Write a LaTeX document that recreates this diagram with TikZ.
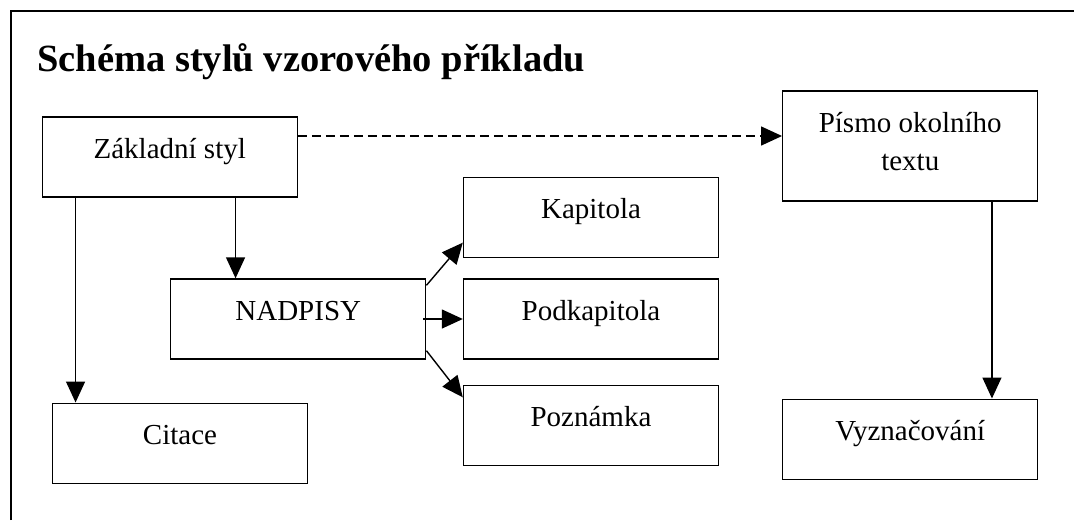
\documentclass[tikz,border=0pt]{standalone}
\usepackage{fontspec}
\setmainfont{Liberation Serif}
\usetikzlibrary{arrows.meta}
\begin{document}
\begin{tikzpicture}[x=1pt,y=-1pt,
  box/.style={draw=black, line width=1.4pt, rectangle, inner sep=0pt, minimum width=255pt, minimum height=80pt},
  txt/.style={anchor=base, inner sep=0pt, font=\fontsize{29}{38}\selectfont},
  arr/.style={line width=1.4pt, -{Triangle[length=21pt,width=19pt]}},
  frameline/.style={line width=1.6pt}]
\useasboundingbox (0,0) rectangle (1074,520);
\draw[frameline] (11,520) -- (11,11) -- (1074,11);
\node[anchor=base west, inner sep=0pt, font=\bfseries\fontsize{38.5}{45}\selectfont] (title) at (37,71) {Schéma stylů vzorového příkladu};
% boxes
\node[box] (z) at (169.75,157) {};
\node[box, minimum height=110pt] (p) at (910.25,146) {};
\node[box] (k) at (591,217.25) {};
\node[box] (n) at (298.25,319) {};
\node[box] (pk) at (591,319) {};
\node[box] (pz) at (591,425.5) {};
\node[box] (c) at (180,443.2) {};
\node[box] (v) at (910.25,439.2) {};
% texts
\node[txt] (tz) at ([yshift=-42pt]z.north) {Základní styl};
\node[txt] (tp) at ([yshift=-42.5pt]p.north) {\begin{tabular}[t]{@{}c@{}}Písmo okolního\\textu\end{tabular}};
\node[txt] (tk) at ([yshift=-42pt]k.north) {Kapitola};
\node[txt] (tn) at ([yshift=-42.5pt]n.north) {NADPISY};
\node[txt] (tpk) at ([yshift=-42.5pt]pk.north) {Podkapitola};
\node[txt] (tpz) at ([yshift=-41.5pt]pz.north) {Poznámka};
\node[txt] (tc) at ([yshift=-42pt]c.north) {Citace};
\node[txt] (tv) at ([yshift=-42.3pt]v.north) {Vyznačování};
% connectors
\draw[arr, dash pattern=on 9pt off 5pt] ([yshift=21pt]z.east) -- ([yshift=21pt]z.east -| p.west);
\draw[arr] ([xshift=34pt]z.south west) -- ([xshift=34pt]z.south west |- c.north);
\draw[arr] ([xshift=194pt]z.south west) -- ([xshift=194pt]z.south west |- n.north);
\draw[arr] ([yshift=-7pt]n.north east) -- ([yshift=15.3pt]k.south west);
\draw[arr] ([xshift=-3pt]n.east) -- (pk.west);
\draw[arr] ([yshift=9pt]n.south east) -- ([yshift=-12.5pt]pz.north west);
\draw[arr] ([xshift=-46.5pt]p.south east) -- ([xshift=-46.5pt]p.south east |- v.north);
\end{tikzpicture}
\end{document}
